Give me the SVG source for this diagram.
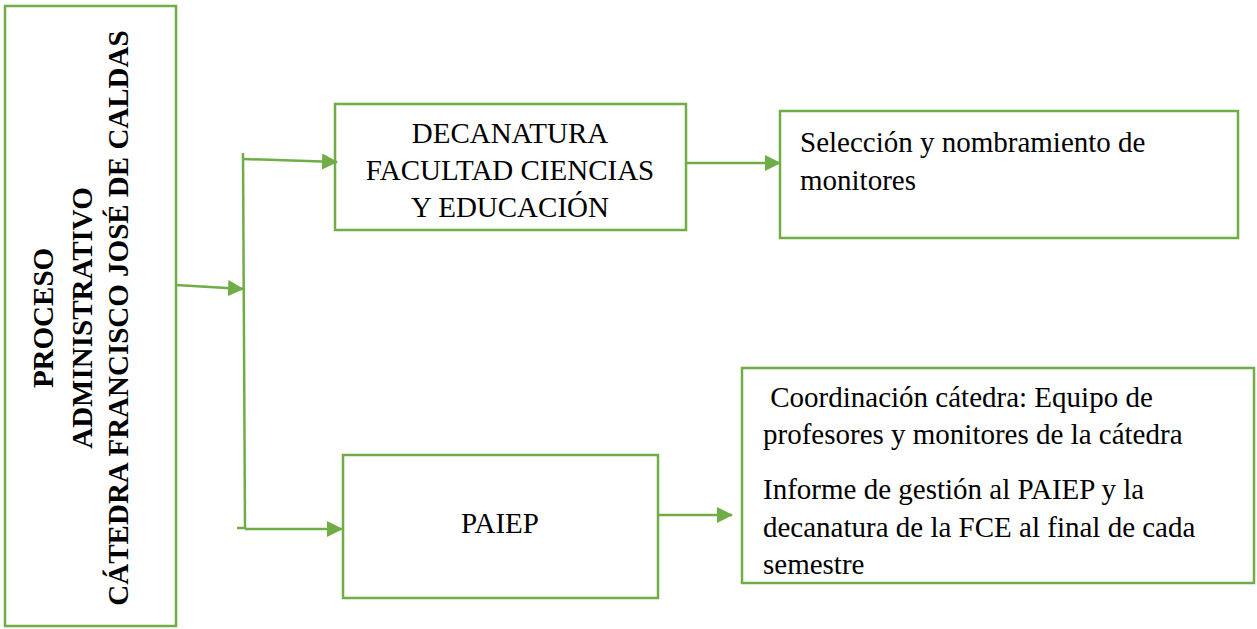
<svg xmlns="http://www.w3.org/2000/svg" width="1257" height="629" viewBox="0 0 1257 629">
<defs>
<style>
.box{fill:#fff;stroke:#70ad47;stroke-width:2.5}
.ln{fill:none;stroke:#70ad47;stroke-width:2.5}
.t{font-family:'Liberation Serif','Times New Roman',Tinos,'DejaVu Serif',serif;font-size:29px;fill:#000}
.b{font-family:'Liberation Serif','Times New Roman',Tinos,'DejaVu Serif',serif;font-size:29px;font-weight:bold;fill:#000;text-anchor:middle}
</style>
<marker id="ah" markerWidth="16" markerHeight="16" refX="15" refY="8" orient="auto" markerUnits="userSpaceOnUse" viewBox="0 0 16 16">
<path d="M0,0 L16,8 L0,16 z" fill="#70ad47"/>
</marker>
</defs>
<rect width="1257" height="629" fill="#fff"/>
<g id="proceso">
<rect class="box" x="5" y="6" width="171" height="620"/>
<text class="b" transform="translate(53,318) rotate(-90)">PROCESO</text>
<text class="b" transform="translate(92,318) rotate(-90)">ADMINISTRATIVO</text>
<text class="b" transform="translate(128,318) rotate(-90)">CÁTEDRA FRANCISCO JOSÉ DE CALDAS</text>
</g>
<g id="decanatura">
<rect class="box" x="335" y="104" width="351" height="126"/>
<text class="t" text-anchor="middle" x="510" y="143">DECANATURA</text>
<text class="t" text-anchor="middle" x="510" y="180">FACULTAD CIENCIAS</text>
<text class="t" text-anchor="middle" x="510" y="217">Y EDUCACIÓN</text>
</g>
<g id="seleccion">
<rect class="box" x="780" y="111" width="458" height="127"/>
<text class="t" x="800" y="152">Selección y nombramiento de</text>
<text class="t" x="800" y="190">monitores</text>
</g>
<g id="paiep">
<rect class="box" x="343" y="455" width="315" height="143"/>
<text class="t" text-anchor="middle" x="500" y="533">PAIEP</text>
</g>
<g id="coordinacion">
<rect class="box" x="742" y="368" width="512" height="215"/>
<text class="t" x="763" y="407" xml:space="preserve"> Coordinación cátedra: Equipo de</text>
<text class="t" x="763" y="444">profesores y monitores de la cátedra</text>
<text class="t" x="763" y="499">Informe de gestión al PAIEP y la</text>
<text class="t" x="763" y="537">decanatura de la FCE al final de cada</text>
<text class="t" x="763" y="574">semestre</text>
</g>
<g id="connectors">
<path class="ln" d="M243,153 L245,528"/>
<path class="ln" d="M237,528 L245,528"/>
<path class="ln" d="M176,285 L243,289" marker-end="url(#ah)"/>
<path class="ln" d="M243,159 L337,162" marker-end="url(#ah)"/>
<path class="ln" d="M245,529 L342,529" marker-end="url(#ah)"/>
<path class="ln" d="M686,163 L780,163" marker-end="url(#ah)"/>
<path class="ln" d="M658,515 L732,515" marker-end="url(#ah)"/>
</g>
</svg>
